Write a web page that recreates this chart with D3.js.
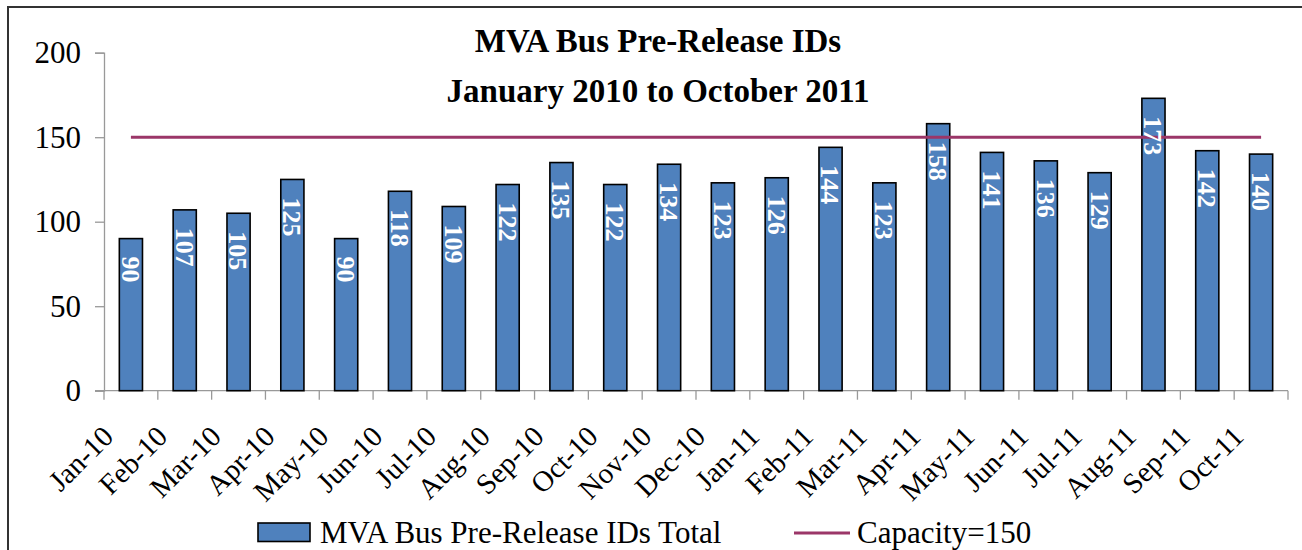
<!DOCTYPE html>
<html>
<head>
<meta charset="utf-8">
<script src="https://cdn.jsdelivr.net/npm/d3@7"></script>
<style>
  body { margin: 0; background: #fff; }
  svg { display: block; font-family: "Liberation Serif", "Times New Roman", serif; }
</style>
</head>
<body>
<script>
// chart data
var months = ["Jan-10","Feb-10","Mar-10","Apr-10","May-10","Jun-10","Jul-10","Aug-10","Sep-10","Oct-10","Nov-10","Dec-10",
              "Jan-11","Feb-11","Mar-11","Apr-11","May-11","Jun-11","Jul-11","Aug-11","Sep-11","Oct-11"];
var totals = [90,107,105,125,90,118,109,122,135,122,134,123,126,144,123,158,141,136,129,173,142,140];
var capacity = 150;
var yTicks = [0,50,100,150,200];
var titleLines = ["MVA Bus Pre-Release IDs", "January 2010 to October 2011"];
var legendNames = ["MVA Bus Pre-Release IDs Total", "Capacity=150"];

var W = 1302, H = 550;
var barColor = "#4F81BD", lineColor = "#9b3668", axisColor = "#999";
var serif = "Liberation Serif";

var svg = d3.select("body").append("svg")
  .attr("width", W)
  .attr("height", H);

// outer frame (runs off the right and bottom edges)
svg.append("rect")
  .attr("x", 8).attr("y", 7)
  .attr("width", W + 20).attr("height", H + 20)
  .attr("fill", "none")
  .attr("stroke", "#333")
  .attr("stroke-width", 2);

var x = d3.scaleBand()
  .domain(months)
  .range([104, 1288])
  .padding(0);

var y = d3.scaleLinear()
  .domain([0, 200])
  .range([390.7, 52.7]);

var barW = x.step() * 0.43;

// y axis
var yAxis = svg.append("g")
  .attr("transform", "translate(104,0)")
  .call(d3.axisLeft(y).tickValues(yTicks).tickSize(9).tickPadding(14).tickFormat(d3.format("d")));
yAxis.select(".domain").attr("stroke", axisColor).attr("stroke-width", 1.3);
yAxis.selectAll(".tick line").attr("stroke", axisColor).attr("stroke-width", 1.3);
yAxis.selectAll(".tick text")
  .attr("fill", "#000")
  .style("font-size", "31px")
  .style("font-family", serif);

// x axis (ticks on category boundaries)
var xAxis = svg.append("g")
  .attr("transform", "translate(0," + y(0) + ")");
xAxis.append("line")
  .attr("x1", 95).attr("x2", 1288)
  .attr("stroke", axisColor).attr("stroke-width", 1.3);
xAxis.selectAll("line.tk")
  .data(months.concat(["end"]))
  .join("line")
  .attr("class", "tk")
  .attr("x1", function(d, i) { return x.range()[0] + i * x.step(); })
  .attr("x2", function(d, i) { return x.range()[0] + i * x.step(); })
  .attr("y1", 0).attr("y2", 9)
  .attr("stroke", axisColor).attr("stroke-width", 1.3);

svg.append("g").selectAll("text")
  .data(months)
  .join("text")
  .attr("transform", function(d) {
    return "translate(" + (x(d) + x.bandwidth() / 2 - 23) + "," + 431 + ") rotate(-45)";
  })
  .attr("text-anchor", "end")
  .attr("dy", "0.35em")
  .style("font-size", "29px")
  .style("font-family", serif)
  .text(function(d) { return d; });

// bars
svg.append("g").selectAll("rect")
  .data(totals)
  .join("rect")
  .attr("x", function(d, i) { return x(months[i]) + x.bandwidth() / 2 - barW / 2; })
  .attr("y", function(d) { return y(d); })
  .attr("width", barW)
  .attr("height", function(d) { return y(0) - y(d); })
  .attr("fill", barColor)
  .attr("stroke", "#000")
  .attr("stroke-width", 1.6);

// capacity line
svg.append("line")
  .attr("x1", x(months[0]) + x.bandwidth() / 2)
  .attr("x2", x(months[months.length - 1]) + x.bandwidth() / 2)
  .attr("y1", y(capacity)).attr("y2", y(capacity))
  .attr("stroke", lineColor)
  .attr("stroke-width", 3);

// value labels, rotated to read top-down
svg.append("g").selectAll("text")
  .data(totals)
  .join("text")
  .attr("transform", function(d, i) {
    return "translate(" + (x(months[i]) + x.bandwidth() / 2) + "," + (y(d) + 18) + ") rotate(90)";
  })
  .attr("dy", "0.35em")
  .attr("fill", "#fff")
  .style("font-size", "26px")
  .style("font-weight", "bold")
  .style("font-family", serif)
  .text(function(d) { return d; });

// title
svg.append("g").selectAll("text")
  .data(titleLines)
  .join("text")
  .attr("x", 658)
  .attr("y", function(d, i) { return 52 + i * 50; })
  .attr("text-anchor", "middle")
  .style("font-size", "33px")
  .style("font-weight", "bold")
  .style("font-family", serif)
  .text(function(d) { return d; });

// legend
var lg = svg.append("g").style("font-family", serif);
lg.append("rect")
  .attr("x", 258).attr("y", 523)
  .attr("width", 52).attr("height", 18.5)
  .attr("fill", barColor)
  .attr("stroke", "#000")
  .attr("stroke-width", 1.6);
lg.append("text")
  .attr("x", 320).attr("y", 543)
  .style("font-size", "31px")
  .text(legendNames[0]);
lg.append("line")
  .attr("x1", 794).attr("x2", 850)
  .attr("y1", 533).attr("y2", 533)
  .attr("stroke", lineColor)
  .attr("stroke-width", 3);
lg.append("text")
  .attr("x", 857).attr("y", 543)
  .style("font-size", "31px")
  .text(legendNames[1]);
</script>
</body>
</html>
